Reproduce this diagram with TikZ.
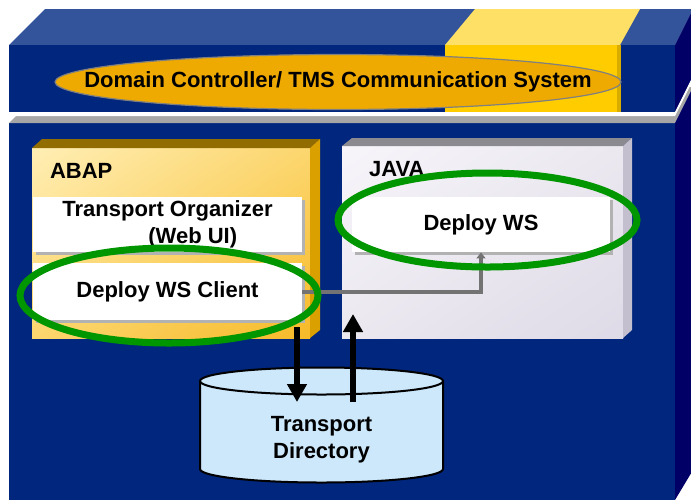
\documentclass[tikz,border=0pt]{standalone}
\usepackage{fontspec}
\setmainfont{Liberation Sans}
\usetikzlibrary{arrows.meta,shadows,shadings}
\definecolor{sapnavy}{RGB}{0,38,125}
\definecolor{sapdark}{RGB}{0,0,102}
\definecolor{saptop}{RGB}{51,83,155}
\definecolor{sapyellow}{RGB}{255,204,0}
\definecolor{sapyellowtop}{RGB}{255,224,102}
\definecolor{sapgold}{RGB}{238,170,0}
\definecolor{abaplight}{RGB}{255,238,180}
\definecolor{abapmid}{RGB}{252,214,110}
\definecolor{abapdark}{RGB}{246,186,40}
\definecolor{abaptop}{RGB}{145,108,0}
\definecolor{abapside}{RGB}{218,160,0}
\definecolor{javalight}{RGB}{247,245,250}
\definecolor{javamid}{RGB}{235,232,240}
\definecolor{javadark}{RGB}{222,218,231}
\definecolor{javatop}{RGB}{140,138,145}
\definecolor{javaside}{RGB}{196,191,206}
\definecolor{ringgreen}{RGB}{0,150,0}
\definecolor{dirblue}{RGB}{204,232,250}
\begin{document}
\begin{tikzpicture}[x=0.5pt,y=-0.5pt,font=\fontsize{11}{13.5}\selectfont\bfseries]
\tikzstyle{wbox}=[fill=white,minimum width=134.5pt,minimum height=27.5pt,inner sep=0pt,
  general shadow={fill=black!30,shadow xshift=1.5pt,shadow yshift=-1.5pt}]
\tikzstyle{ring}=[draw=ringgreen,line width=3.5pt]
\tikzstyle{link}=[draw=black!55,line width=2pt,-{Triangle[width=4.5pt,length=3pt]}]
\tikzstyle{fat}=[draw=black,line width=3pt,-{Triangle[width=9.5pt,length=9pt]}]
\useasboundingbox (0,0) rectangle (691,500);
\clip (0,0) rectangle (691,500);
\fill[sapnavy] (9,123) rectangle (675,500);
\fill[black!35] (9,123) -- (45,87) -- (693,87) -- (675,123) -- cycle;
\fill[sapdark] (675,123) -- (693,87) -- (693,470) -- (675,500) -- cycle;
\fill[saptop] (9,45) -- (45,9) -- (693,9) -- (675,45) -- cycle;
\fill[sapdark] (675,45) -- (693,9) -- (693,76) -- (675,112) -- cycle;
\fill[sapnavy] (9,45) rectangle (675,112);
\fill[sapyellowtop] (445,45) -- (475,9) -- (640,9) -- (620,45) -- cycle;
\fill[sapyellow] (445,45) rectangle (620,112);
\fill[sapyellow!85!black] (617,45) rectangle (621,112);
\fill[white] (9,112) -- (675,112) -- (693,76) -- (693,80) -- (675,116) -- (9,116) -- cycle;
\filldraw[fill=sapgold,draw=black!50,line width=0.6pt] (338,82) ellipse [x radius=283,y radius=27.5];
\node (dcts) at (338,82) {Domain Controller/ TMS Communication System};
\shade[upper left=abaplight,upper right=abapmid,lower left=abapmid,lower right=abapdark] (32,148) rectangle (310,338);
\fill[abaptop] (32,148) -- (42,139) -- (320,139) -- (310,148) -- cycle;
\fill[abapside] (310,148) -- (320,139) -- (320,330) -- (310,338) -- cycle;
\node[anchor=west] (abap) at (43,171) {ABAP};
\shade[upper left=javalight,upper right=javamid,lower left=javamid,lower right=javadark] (342,146) rectangle (623,338);
\fill[javatop] (342,146) -- (352,138) -- (632,138) -- (623,146) -- cycle;
\fill[javaside] (623,146) -- (632,138) -- (632,330) -- (623,338) -- cycle;
\node[anchor=west] (java) at (362,169) {JAVA};
\node[wbox,align=left] (torg) at (167.5,224.5) {Transport Organizer\\\hspace*{43pt}(Web UI)};
\node[wbox,minimum height=28.5pt] (wsclient) at (167.5,291.5) {Deploy WS Client};
\node[wbox,minimum width=129pt] (deployws) at (481,224.5) {Deploy WS};
\draw[link] (wsclient.east) -| (deployws.south);
\draw[ring] (169,295.5) ellipse [x radius=149,y radius=47.5];
\draw[ring] (487.5,220) ellipse [x radius=149.5,y radius=47];
\filldraw[fill=dirblue,line width=1pt] (200,381) -- (200,469)
  arc[start angle=180,end angle=0,x radius=121.5,y radius=13.5] -- (443,381)
  arc[start angle=0,end angle=-180,x radius=121.5,y radius=13.5] -- cycle;
\draw[line width=1pt] (200,381) arc[start angle=180,end angle=0,x radius=121.5,y radius=13.5];
\node[align=center] (tdir) at (321.5,439.5) {Transport\\Directory};
\coordinate (abapout) at (297,327);
\coordinate (tdirin) at (297,402);
\coordinate (tdirout) at (353,402);
\coordinate (javain) at (353,314);
\draw[fat] (abapout) -- (tdirin);
\draw[fat] (tdirout) -- (javain);
\end{tikzpicture}
\end{document}
